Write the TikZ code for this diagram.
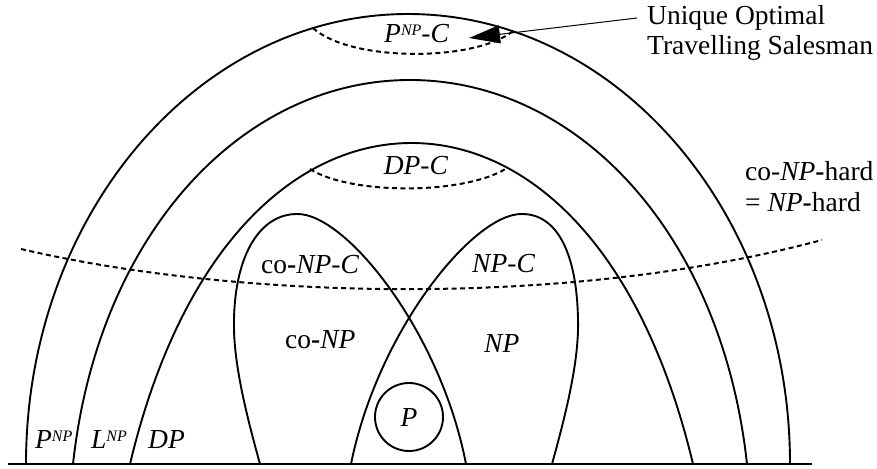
\documentclass[tikz,border=0pt]{standalone}
\usepackage{fontspec}
\setmainfont{Liberation Serif}
\usetikzlibrary{arrows.meta}

% small italic superscript used in P^NP and L^NP
\newcommand\supNP{\raisebox{7pt}{\fontsize{16}{16}\selectfont\itshape NP}}

\tikzset{
  region/.style={line width=1.9pt},
  ground/.style={line width=2.4pt},
  border/.style={line width=2pt, dash pattern=on 5pt off 3.5pt},
  pointer/.style={line width=1pt, -{Triangle[length=31pt,width=18pt]}},
  lbl/.style={inner sep=0pt, font=\fontsize{27.5}{30}\selectfont},
}

\begin{document}
\begin{tikzpicture}[x=1pt,y=-1pt]
\useasboundingbox (0,0) rectangle (877,468);

% ground line
\draw[ground] (8,464) -- (812,464);

% nested arches: P^NP, L^NP, DP
\draw[region] (26,464) .. controls (26,216) and (197,14) .. (408,14)
                      .. controls (619,14) and (790,216) .. (790,464);
\draw[region] (73,464) .. controls (98,234) and (242,80) .. (410,80)
                      .. controls (578,80) and (722,234) .. (747,464);
\draw[region] (130,464) .. controls (183,242) and (298.5,143) .. (411.5,143)
                       .. controls (524.5,143) and (640,242) .. (693,464);

% co-NP and NP lobes
\draw[region] (260,464) .. controls (245,410) and (233,360) .. (234,320)
                       .. controls (235,255) and (260,214) .. (297,214)
                       .. controls (345,213) and (440,330) .. (466,464);
\draw[region] (552,464) .. controls (567,410) and (579,360) .. (578,320)
                       .. controls (577,255) and (558,214) .. (522,214)
                       .. controls (474,213) and (378,330) .. (351,464);

% class P
\node[region, draw, circle, minimum size=68pt, inner sep=0pt, lbl] (pclass) at (409,417) {\textit{P}};

% completeness borders
\draw[border] (313,28) .. controls (350,62) and (475,62) .. (513,31);
\draw[border] (310,169) .. controls (350,195) and (465,195) .. (507,168);
\draw[border] (21,249) .. controls (230,298) and (560,310) .. (822,240);

% region labels
\node[lbl, anchor=base west] (pnp)   at (35,448)  {\textit{P}\supNP};
\node[lbl, anchor=base west] (lnp)   at (91,448)  {\textit{L}\supNP};
\node[lbl, anchor=base west] (dp)    at (148,448) {\textit{DP}};
\node[lbl, anchor=base west] (conpc) at (261,273) {co\textbf{-}\textit{NP-C}};
\node[lbl, anchor=base west] (conp)  at (285,348) {co\textbf{-}\textit{NP}};
\node[lbl, anchor=base west] (npc)   at (472,272) {\textit{NP-C}};
\node[lbl, anchor=base west] (np)    at (484,352) {\textit{NP}};
\node[lbl, anchor=base]      (dpc)   at (416,174) {\textit{DP-C}};
\node[lbl, anchor=base west] (pnpc)  at (384,43)  {\textit{P}\supNP\textit{-C}};

% side notes
\node[lbl, anchor=base west] (uto1) at (647,25) {Unique Optimal};
\node[lbl, anchor=base west] (uto2) at (647,55) {Travelling Salesman};
\node[lbl, anchor=base west] (hard1) at (745,180) {co-\textit{NP}\textbf{-}hard};
\node[lbl, anchor=base west] (hard2) at (745,211) {= \textit{NP}\textbf{-}hard};

% pointer to the travelling salesman problem
\coordinate (arrtail) at (637,18);
\coordinate (arrtip) at (469,38);
\draw[pointer] (arrtail) -- (arrtip);
\end{tikzpicture}
\end{document}
